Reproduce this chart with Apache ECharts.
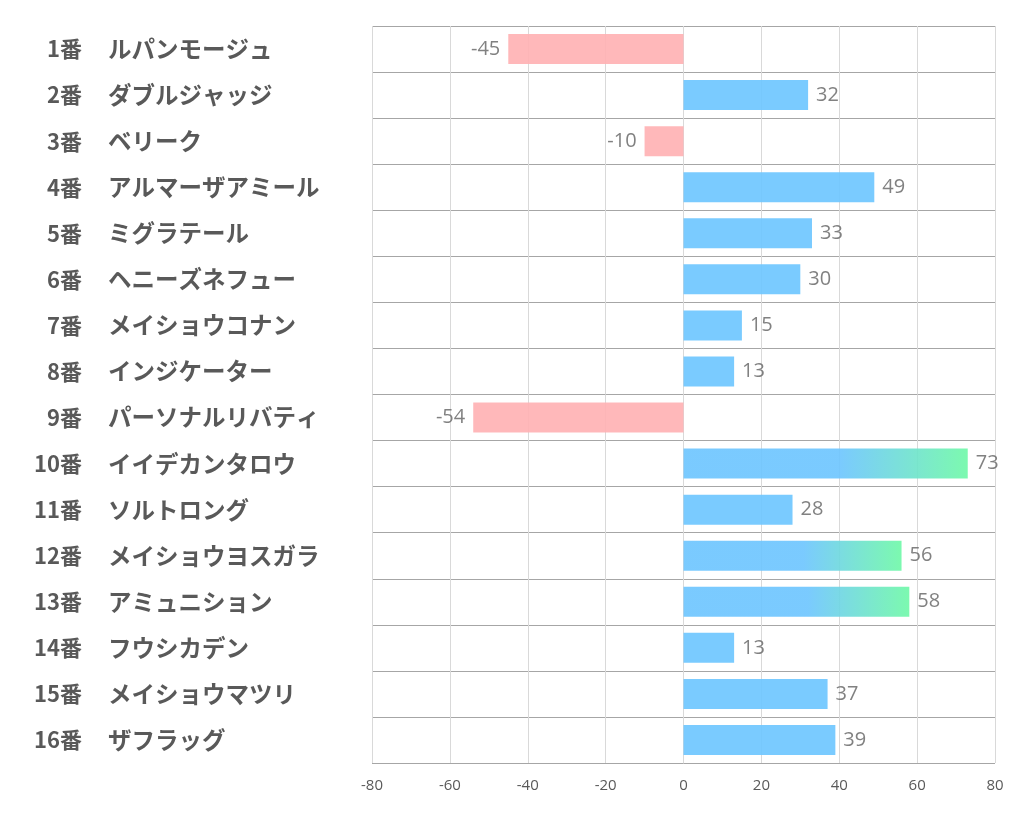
<!DOCTYPE html>
<html>
<head>
<meta charset="utf-8">
<script src="https://cdn.jsdelivr.net/npm/echarts@6/dist/echarts.min.js"></script>
<style>
html, body { margin: 0; padding: 0; background: #fff; }
#chart { width: 1022px; height: 834px; }
</style>
</head>
<body>
<div id="chart"></div>
<script>
// 馬番と馬名
const horseNumbers = ['1番', '2番', '3番', '4番', '5番', '6番', '7番', '8番',
    '9番', '10番', '11番', '12番', '13番', '14番', '15番', '16番']
const horseNames = ['ルパンモージュ', 'ダブルジャッジ', 'ベリーク', 'アルマーザアミール', 'ミグラテール',
    'ヘニーズネフュー', 'メイショウコナン', 'インジケーター', 'パーソナルリバティ', 'イイデカンタロウ',
    'ソルトロング', 'メイショウヨスガラ', 'アミュニション', 'フウシカデン', 'メイショウマツリ', 'ザフラッグ']
const scores = [-45, 32, -10, 49, 33, 30, 15, 13, -54, 73, 28, 56, 58, 13, 37, 39]
const xTicks = [-80, -60, -40, -20, 0, 20, 40, 60, 80]

const COLOR = {
    blue: '#6CC5FF',
    pink: '#FFB0B3',
    green: '#6EF9A7',
    label: '#595959'
}

const barData = scores.map(v => {
    let color = v < 0 ? COLOR.pink : COLOR.blue
    if (v > 50) { // 50超はグラデーション
        color = new echarts.graphic.LinearGradient(0, 0, 1, 0, [
            { offset: 0, color: COLOR.blue },
            { offset: 0.55, color: COLOR.blue },
            { offset: 1, color: COLOR.green }
        ])
    }
    return {
        value: v,
        itemStyle: { color: color },
        label: { position: v < 0 ? 'left' : 'right' }
    }
})

const chart = echarts.init(document.getElementById('chart'))
chart.setOption({
    animation: false,
    grid: { left: 372, right: 27, top: 26, bottom: 71 },
    xAxis: {
        type: 'value',
        min: xTicks[0],
        max: xTicks[xTicks.length - 1],
        interval: 20,
        axisLine: { show: false },
        axisTick: { show: false },
        axisLabel: {
            margin: 15,
            fontSize: 15,
            color: COLOR.label,
            fontFamily: 'Open Sans'
        },
        splitLine: { show: true, lineStyle: { color: '#d9d9d9', width: 1 } }
    },
    yAxis: [
        { // 馬番（右揃え）
            type: 'category',
            inverse: true,
            position: 'left',
            data: horseNumbers,
            axisLine: { show: false },
            axisTick: { show: false },
            splitLine: { show: true, lineStyle: { color: '#a6a6a6', width: 1 } },
            axisLabel: {
                margin: 290,
                fontSize: 22,
                fontWeight: 'bold',
                color: COLOR.label,
                fontFamily: 'Noto Sans CJK JP'
            }
        },
        { // 馬名（左揃え）
            type: 'category',
            inverse: true,
            position: 'left',
            data: horseNames,
            axisLine: { show: false },
            axisTick: { show: false },
            splitLine: { show: false },
            axisLabel: {
                align: 'left',
                margin: 264,
                fontSize: 23.5,
                fontWeight: 'bold',
                color: COLOR.label,
                fontFamily: 'Noto Sans CJK JP'
            }
        }
    ],
    series: [{
        type: 'bar',
        yAxisIndex: 0,
        data: barData,
        barWidth: 30,
        itemStyle: { opacity: 0.9 },
        label: {
            show: true,
            distance: 8,
            fontSize: 20,
            color: '#737373',
            fontFamily: 'Open Sans'
        }
    }]
})
</script>
</body>
</html>
